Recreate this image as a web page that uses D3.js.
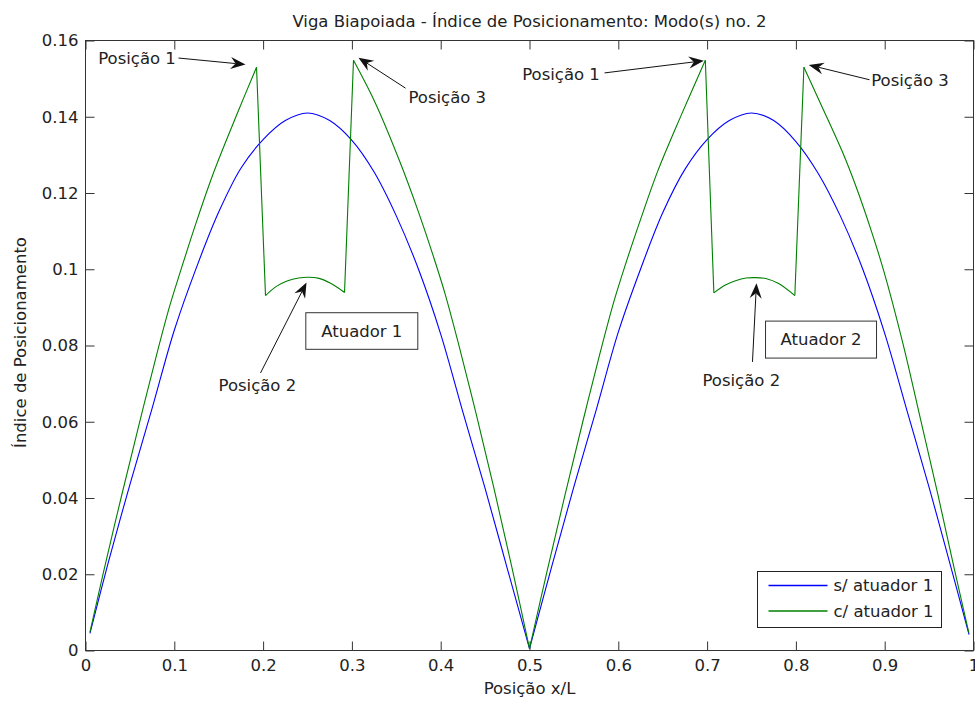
<!DOCTYPE html>
<html>
<head>
<meta charset="utf-8">
<script src="https://cdn.jsdelivr.net/npm/d3@7"></script>
<style>
    body { margin: 0; background: #fff; }
    text { font-family: "DejaVu Sans", "Liberation Sans", sans-serif; fill: #222; }
</style>
</head>
<body>
<div id="chart"></div>
<script>
// s/ atuador 1 (blue)
const blueX = [0.005, 0.025, 0.05, 0.075, 0.1, 0.125, 0.15, 0.175, 0.2, 0.225, 0.25, 0.275, 0.3, 0.325, 0.35, 0.375, 0.4, 0.425, 0.45, 0.475, 0.5,
               0.525, 0.55, 0.575, 0.6, 0.625, 0.65, 0.675, 0.7, 0.725, 0.75, 0.775, 0.8, 0.825, 0.85, 0.875, 0.9, 0.925, 0.95, 0.975, 0.995];
const blueY = [0.0045, 0.0225, 0.0435, 0.0635, 0.0840, 0.1005, 0.1150, 0.1265, 0.1340, 0.1390, 0.1410, 0.1390, 0.1338, 0.1255, 0.1140, 0.1000, 0.0830, 0.0625, 0.0425, 0.0215, 0.0005,
               0.0220, 0.0430, 0.0630, 0.0835, 0.1000, 0.1148, 0.1262, 0.1340, 0.1390, 0.1410, 0.1390, 0.1335, 0.1252, 0.1140, 0.1002, 0.0832, 0.0630, 0.0428, 0.0215, 0.0042];

// c/ atuador 1 (green)
const greenX = [0.005, 0.02, 0.04, 0.06, 0.08, 0.095, 0.107, 0.125, 0.1445, 0.171, 0.1926,
                0.2027, 0.215, 0.227, 0.240, 0.251, 0.263, 0.276, 0.2917,
                0.3018, 0.3266, 0.3547, 0.375, 0.393, 0.405, 0.42, 0.44, 0.46, 0.48, 0.5,
                0.52, 0.54, 0.56, 0.58, 0.595, 0.607, 0.625, 0.6445, 0.671, 0.698,
                0.7076, 0.720, 0.732, 0.744, 0.7545, 0.767, 0.780, 0.7988,
                0.809, 0.8277, 0.852, 0.868, 0.885, 0.899, 0.92, 0.94, 0.96, 0.978, 0.9947];
const greenY = [0.0048, 0.0203, 0.0400, 0.0590, 0.0775, 0.0905, 0.0995, 0.1125, 0.1255, 0.1409, 0.1530,
                0.0931, 0.0955, 0.0969, 0.0977, 0.0979, 0.0976, 0.0963, 0.0939,
                0.1548, 0.1435, 0.1278, 0.1150, 0.1025, 0.0935, 0.0805, 0.0620, 0.0425, 0.0220, 0.0005,
                0.0210, 0.0408, 0.0600, 0.0785, 0.0915, 0.1005, 0.1130, 0.1258, 0.1405, 0.1548,
                0.0938, 0.0958, 0.0970, 0.0977, 0.0978, 0.0975, 0.0963, 0.0931,
                0.1530, 0.1435, 0.1310, 0.1215, 0.1100, 0.0995, 0.0810, 0.0610, 0.0408, 0.0218, 0.0047];

// sharp corners where the curves must not be smoothed
const blueCorners = [0.5];
const greenCorners = [0.1926, 0.2027, 0.2917, 0.3018, 0.5, 0.698, 0.7076, 0.7988, 0.809];

const xTicks = [0, 0.1, 0.2, 0.3, 0.4, 0.5, 0.6, 0.7, 0.8, 0.9, 1];
const yTicks = [0, 0.02, 0.04, 0.06, 0.08, 0.1, 0.12, 0.14, 0.16];

// text arrows: text position, arrow start, arrow tip (data units)
const arrowLabels = ["Posição 1", "Posição 3", "Posição 1", "Posição 3", "Posição 2", "Posição 2"];
const arrowTextX = [0.0143, 0.3637, 0.4918, 0.8848, 0.1498, 0.6948];
const arrowTextY = [0.1554, 0.1452, 0.1512, 0.1495, 0.0697, 0.0710];
const arrowFromX = [0.1047, 0.3604, 0.5845, 0.8829, 0.1971, 0.7511];
const arrowFromY = [0.1554, 0.1475, 0.1515, 0.1497, 0.0728, 0.0757];
const arrowToX = [0.1802, 0.3074, 0.6963, 0.8145, 0.2489, 0.7556];
const arrowToY = [0.1537, 0.1555, 0.1547, 0.1536, 0.0965, 0.0963];

// boxed labels
const boxLabels = ["Atuador 1", "Atuador 2"];
const boxX0 = [0.2481, 0.7658];
const boxX1 = [0.3742, 0.8908];
const boxY0 = [0.0886, 0.0864];
const boxY1 = [0.0790, 0.0767];

const legendLabels = ["s/ atuador 1", "c/ atuador 1"];
const colors = ["#0000ff", "#008000"];

const W = 975, H = 702;
const FONT = "16.5px";
const margin = { top: 40.5, right: 1.5, bottom: 51.5, left: 85.5 };
const width = W - margin.left - margin.right;
const height = H - margin.top - margin.bottom;

const svg = d3.select("#chart").append("svg")
    .attr("width", W)
    .attr("height", H);

const g = svg.append("g")
    .attr("transform", `translate(${margin.left},${margin.top})`);

const x = d3.scaleLinear().domain([0, 1]).range([0, width]);
const y = d3.scaleLinear().domain([0, 0.16]).range([height, 0]);

// title + axis labels
svg.append("text")
    .attr("x", margin.left + width / 2)
    .attr("y", 27)
    .attr("text-anchor", "middle")
    .style("font-size", FONT)
    .text("Viga Biapoiada - Índice de Posicionamento: Modo(s) no. 2");

svg.append("text")
    .attr("x", margin.left + width / 2)
    .attr("y", 694)
    .attr("text-anchor", "middle")
    .style("font-size", FONT)
    .text("Posição x/L");

svg.append("text")
    .attr("transform", `translate(26,${margin.top + height / 2 - 3}) rotate(-90)`)
    .attr("text-anchor", "middle")
    .style("font-size", FONT)
    .text("Índice de Posicionamento");

// axes, ticks pointing inward on all four sides
const tickLen = 9;
const axisStyle = sel => {
    sel.select(".domain").remove();
    sel.selectAll("line").attr("stroke", "#333");
    sel.selectAll("text").style("font-size", FONT).attr("fill", "#222");
};

g.append("g")
    .attr("transform", `translate(0,${height})`)
    .call(d3.axisBottom(x).tickValues(xTicks).tickSize(-tickLen).tickPadding(9).tickFormat(d3.format("~g")))
    .call(axisStyle);
g.append("g")
    .call(d3.axisTop(x).tickValues(xTicks).tickSize(-tickLen).tickFormat(""))
    .call(axisStyle);
g.append("g")
    .call(d3.axisLeft(y).tickValues(yTicks).tickSize(-tickLen).tickPadding(7).tickFormat(d3.format("~g")))
    .call(axisStyle);
g.append("g")
    .attr("transform", `translate(${width},0)`)
    .call(d3.axisRight(y).tickValues(yTicks).tickSize(-tickLen).tickFormat(""))
    .call(axisStyle);

g.append("rect")
    .attr("width", width)
    .attr("height", height)
    .attr("fill", "none")
    .attr("stroke", "#333")
    .attr("stroke-width", 1);

// split a series at its corner points, each piece is smoothed separately
function pieces(xs, ys, corners) {
    const out = [];
    let cur = [];
    xs.forEach((xv, i) => {
        cur.push([xv, ys[i]]);
        if (corners.includes(xv) && cur.length > 1) {
            out.push(cur);
            cur = [[xv, ys[i]]];
        }
    });
    if (cur.length > 1) out.push(cur);
    return out;
}

const line = d3.line()
    .x(d => x(d[0]))
    .y(d => y(d[1]))
    .curve(d3.curveCatmullRom.alpha(0.5));

const plot = g.append("g");

[[blueX, blueY, blueCorners], [greenX, greenY, greenCorners]].forEach((s, k) => {
    plot.selectAll(null)
        .data(pieces(s[0], s[1], s[2]))
        .enter()
        .append("path")
        .attr("d", line)
        .attr("fill", "none")
        .attr("stroke", colors[k])
        .attr("stroke-width", 1.1);
});

// arrows with filled heads
const ann = g.append("g");
arrowLabels.forEach((lab, i) => {
    const x0 = x(arrowFromX[i]), y0 = y(arrowFromY[i]);
    const x1 = x(arrowToX[i]), y1 = y(arrowToY[i]);
    const a = Math.atan2(y1 - y0, x1 - x0);
    const hl = 15, hw = 6, notch = 10;
    const ux = Math.cos(a), uy = Math.sin(a);
    const px = -uy, py = ux;
    ann.append("line")
        .attr("x1", x0).attr("y1", y0)
        .attr("x2", x1 - ux * notch).attr("y2", y1 - uy * notch)
        .attr("stroke", "#111")
        .attr("stroke-width", 1);
    const head = [
        [x1, y1],
        [x1 - ux * hl + px * hw, y1 - uy * hl + py * hw],
        [x1 - ux * notch, y1 - uy * notch],
        [x1 - ux * hl - px * hw, y1 - uy * hl - py * hw]
    ];
    ann.append("path")
        .attr("d", "M" + head.map(p => p.join(",")).join("L") + "Z")
        .attr("fill", "#111");
    ann.append("text")
        .attr("x", x(arrowTextX[i]))
        .attr("y", y(arrowTextY[i]))
        .attr("dy", "0.35em")
        .style("font-size", FONT)
        .text(lab);
});

boxLabels.forEach((lab, i) => {
    ann.append("rect")
        .attr("x", x(boxX0[i]))
        .attr("y", y(boxY0[i]))
        .attr("width", x(boxX1[i]) - x(boxX0[i]))
        .attr("height", y(boxY1[i]) - y(boxY0[i]))
        .attr("fill", "#fff")
        .attr("stroke", "#333");
    ann.append("text")
        .attr("x", (x(boxX0[i]) + x(boxX1[i])) / 2)
        .attr("y", (y(boxY0[i]) + y(boxY1[i])) / 2)
        .attr("dy", "0.35em")
        .attr("text-anchor", "middle")
        .style("font-size", FONT)
        .text(lab);
});

// legend
const legend = svg.append("g").attr("transform", "translate(757.5,571.5)");
legend.append("rect")
    .attr("width", 184)
    .attr("height", 56)
    .attr("fill", "#fff")
    .attr("stroke", "#222");
legendLabels.forEach((lab, i) => {
    const ly = 14 + i * 25.5;
    legend.append("line")
        .attr("x1", 11).attr("x2", 70)
        .attr("y1", ly).attr("y2", ly)
        .attr("stroke", colors[i])
        .attr("stroke-width", 1.3);
    legend.append("text")
        .attr("x", 76)
        .attr("y", ly)
        .attr("dy", "0.35em")
        .style("font-size", FONT)
        .text(lab);
});
</script>
</body>
</html>
